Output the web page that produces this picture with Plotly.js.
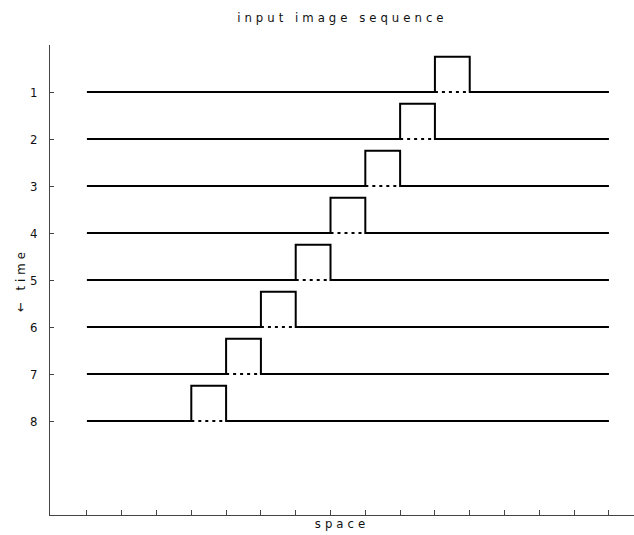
<!DOCTYPE html>
<html><head><meta charset="utf-8">
<script src="https://cdn.plot.ly/plotly-3.0.1.min.js"></script>
<style>
body{margin:0;background:#fff}
.gtitle,.xtitle,.ytitle{letter-spacing:4px}
</style>
</head><body>
<div id="chart" style="width:634px;height:535px"></div>
<script>
// data
const frames = [1, 2, 3, 4, 5, 6, 7, 8];              // time rows
const pulseStart = [10, 9, 8, 7, 6, 5, 4, 3];         // left edge of pulse per row (space units)
const pulseWidth = 1;
const pulseHeight = 0.75;
const spaceStart = 0, spaceEnd = 15;
const spaceTicks = [0,1,2,3,4,5,6,7,8,9,10,11,12,13,14,15];
const rowLabels = ['1','2','3','4','5','6','7','8'];

const traces = [];
frames.forEach((r, i) => {
  const s = pulseStart[i], e = s + pulseWidth, top = r - pulseHeight;
  traces.push({
    x: [spaceStart, s, s, e, e, spaceEnd],
    y: [r, r, top, top, r, r],
    mode: 'lines', line: {color: '#000', width: 2}, hoverinfo: 'skip'
  });
  traces.push({
    x: [s, e], y: [r, r],
    mode: 'lines', line: {color: '#000', width: 2, dash: '3px,4px'}, hoverinfo: 'skip'
  });
});

const font = {family: '"Liberation Sans Narrow", "DejaVu Sans Condensed", Arial, sans-serif', size: 13, color: '#111'};

Plotly.newPlot('chart', traces, {
  width: 634, height: 535,
  showlegend: false,
  paper_bgcolor: '#fff', plot_bgcolor: '#fff',
  margin: {l: 50, r: 0, t: 45, b: 20},
  font: font,
  title: {text: 'input image sequence', x: 0.54, xanchor: 'center', y: 0.967, yanchor: 'middle', font: font},
  xaxis: {
    range: [-1.06, 15.72], showgrid: false, zeroline: false,
    showline: true, linecolor: '#444', linewidth: 1,
    ticks: 'inside', ticklen: 5, tickcolor: '#444', tickvals: spaceTicks, showticklabels: false,
    title: {text: 'space', font: font, standoff: 3}, automargin: false
  },
  yaxis: {
    range: [10, 0], showgrid: false, zeroline: false,
    showline: true, linecolor: '#444', linewidth: 1,
    ticks: 'inside', ticklen: 4, tickcolor: '#444',
    tickvals: frames, ticktext: rowLabels, ticklabelstandoff: 9,
    title: {text: '\u2190 time', font: font, standoff: 1}, automargin: false
  }
}, {displayModeBar: false, staticPlot: true});
</script>
</body></html>
